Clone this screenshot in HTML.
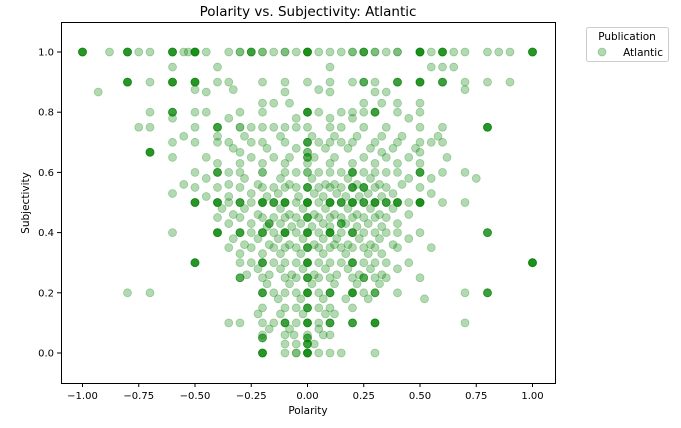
<!DOCTYPE html>
<html><head><meta charset="utf-8">
<style>
html,body{margin:0;padding:0;background:#fff;}
svg{display:block;font-family:"DejaVu Sans","Liberation Sans",sans-serif;}
</style></head>
<body>
<svg id="chart" width="681" height="428">
  <text x="308" y="16" font-size="13.5" text-anchor="middle" fill="#000">Polarity vs. Subjectivity: Atlantic</text>
  <g id="points"></g>
  <rect x="61.5" y="22.5" width="494" height="361" fill="none" stroke="#000" stroke-width="1"/>
  <g id="xticks"></g>
  <g id="yticks"></g>
  <text x="308" y="414" font-size="10.5" text-anchor="middle">Polarity</text>
  <text x="29" y="203" font-size="10.5" text-anchor="middle" transform="rotate(-90 29 203)">Subjectivity</text>
  <g>
    <rect x="586.5" y="27.5" width="82" height="34" rx="2" fill="#fff" stroke="#ccc"/>
    <text x="627" y="40" font-size="10.5" text-anchor="middle">Publication</text>
    <circle cx="602" cy="52" r="4" fill="#008000" fill-opacity="0.3" stroke="#008000" stroke-opacity="0.3" stroke-width="0.8"/>
    <text x="663" y="56" font-size="10.5" text-anchor="end">Atlantic</text>
  </g>
</svg>
<script>
const subjectivityLevels = [1.0,0.95,0.9,0.867,0.875,0.83,0.8,0.78,0.75,0.72,0.7,0.68,0.667,0.65,0.63,0.6,0.58,0.56,0.55,0.53,0.52,0.5,0.48,0.46,0.45,0.43,0.42,0.4,0.38,0.36,0.35,0.33,0.3,0.28,0.26,0.25,0.23,0.2,0.18,0.15,0.13,0.1,0.08,0.06,0.03,0.0];
const polarityByLevel = [
[-1,-1,-0.88,-0.8,-0.8,-0.75,-0.7,-0.6,-0.6,-0.55,-0.53,-0.5,-0.5,-0.5,-0.45,-0.35,-0.3,-0.3,-0.25,-0.2,-0.2,-0.15,-0.1,-0.1,-0.05,0,0,0,0.05,0.1,0.15,0.2,0.2,0.25,0.3,0.3,0.35,0.4,0.4,0.5,0.5,0.5,0.55,0.6,0.6,0.65,0.7,0.8,0.85,0.9,1,1],
[-0.6,-0.4,0.1,0.55,0.6,0.65],
[-0.8,-0.8,-0.7,-0.6,-0.6,-0.5,-0.5,-0.4,-0.35,-0.2,-0.1,0,0.1,0.2,0.3,0.4,0.5,0.5,0.6,0.7,0.8,0.9],
[-0.93,-0.45,-0.1,0.1,0.3,0.35],
[-0.5,-0.33,0.05,0.7],
[-0.2,-0.15,-0.08,0.25,0.33,0.4,0.5],
[-0.7,-0.6,-0.5,-0.45,-0.3,-0.2,0,0,0.05,0.15,0.2,0.25,0.3,0.4,0.5],
[-0.6,-0.35,-0.05,0.1,0.2,0.45],
[-0.75,-0.7,-0.5,-0.4,-0.3,-0.3,-0.25,-0.2,-0.15,-0.1,-0.05,0,0.1,0.15,0.25,0.35,0.5,0.6,0.8,0.8],
[-0.55,-0.4,-0.28,-0.12,0.02,0.12,0.22,0.33,0.42,0.58],
[-0.6,-0.5,-0.4,-0.35,-0.25,-0.2,-0.1,0,0.05,0.1,0.15,0.2,0.3,0.4,0.5,0.55,0.6],
[-0.33,-0.18,-0.05,0.08,0.18,0.28,0.38,0.48],
[-0.7,-0.7,-0.3,0,0,0.33,0.5],
[-0.6,-0.45,-0.25,-0.15,-0.08,0.03,0.12,0.25,0.35,0.45,0.62],
[-0.4,-0.3,-0.2,-0.1,0,0.1,0.2,0.3,0.4,0.5],
[-0.5,-0.4,-0.35,-0.3,-0.2,-0.2,-0.1,-0.05,0,0,0.05,0.1,0.15,0.2,0.25,0.3,0.35,0.4,0.5,0.6,0.7],
[-0.45,-0.28,-0.12,0.02,0.18,0.28,0.45,0.55,0.75],
[-0.55,-0.35,-0.22,-0.08,0.08,0.12,0.22,0.32,0.42],
[-0.5,-0.4,-0.3,-0.2,-0.15,-0.1,-0.05,0,0.05,0.1,0.15,0.2,0.25,0.3,0.35,0.5],
[-0.6,-0.25,-0.13,0.03,0.13,0.27,0.38,0.55],
[-0.45,-0.35,-0.18,-0.04,0.07,0.17,0.23,0.33],
[-0.5,-0.5,-0.4,-0.4,-0.35,-0.3,-0.25,-0.2,-0.2,-0.15,-0.1,-0.1,-0.05,0,0,0,0.05,0.1,0.1,0.15,0.2,0.2,0.25,0.3,0.3,0.35,0.4,0.4,0.45,0.5,0.5,0.5,0.6,0.7],
[-0.38,-0.28,-0.12,-0.02,0.08,0.18,0.28,0.38],
[-0.33,-0.22,-0.08,0.03,0.12,0.22,0.32,0.45],
[-0.4,-0.3,-0.2,-0.15,-0.1,-0.05,0,0.05,0.1,0.15,0.2,0.25,0.3,0.35],
[-0.35,-0.25,-0.12,-0.03,0.07,0.17,0.27,0.4],
[-0.18,-0.07,0.02,0.1,0.22,0.33],
[-0.6,-0.4,-0.4,-0.3,-0.25,-0.2,-0.15,-0.1,-0.1,-0.05,0,0,0.05,0.1,0.1,0.15,0.2,0.25,0.3,0.35,0.4,0.5,0.8],
[-0.33,-0.22,-0.13,-0.02,0.07,0.13,0.23,0.32,0.45],
[-0.28,-0.17,-0.08,0.03,0.12,0.18,0.28,0.38],
[-0.35,-0.25,-0.15,-0.1,-0.05,0,0.05,0.1,0.15,0.2,0.25,0.3,0.4,0.55],
[-0.3,-0.2,-0.12,-0.03,0.07,0.17,0.27,0.33],
[-0.5,-0.5,-0.3,-0.25,-0.2,-0.15,-0.1,-0.05,0,0,0.05,0.1,0.15,0.2,0.25,0.3,0.35,0.45,1,1,1],
[-0.22,-0.12,-0.02,0.08,0.18,0.28,0.4],
[-0.27,-0.17,-0.07,0.03,0.13,0.23,0.33],
[-0.2,-0.1,-0.05,0,0.05,0.1,0.2,0.3,0.35,0.5],
[-0.18,-0.08,0.02,0.12,0.22,0.32],
[-0.8,-0.7,-0.2,-0.15,-0.1,-0.05,0,0,0.05,0.1,0.2,0.2,0.25,0.4,0.7,0.8],
[-0.13,-0.03,0.07,0.17,0.27,0.52],
[-0.2,-0.1,-0.05,0,0.05,0.1,0.2],
[-0.22,-0.12,-0.02,0.08,0.12],
[-0.35,-0.3,-0.2,-0.15,-0.1,-0.05,0,0,0.05,0.1,0.2,0.3,0.3,0.7],
[-0.17,-0.08,0.05],
[-0.2,-0.1,-0.06,0,0.07,0.1],
[-0.1,-0.05,0,0.03],
[-0.2,-0.2,-0.1,-0.05,-0.05,0,0,0,0.05,0.1,0.15,0.3]
];
// frequently repeated (overplotted) value pairs
const heavyPolarity = [-1,-0.8,-0.6,-0.5,-0.25,0,0.25,0.5,0.6,1,-0.8,-0.6,-0.5,0.25,0.4,0.5,0.6,-0.6,0,0.3,-0.4,0.8,-0.7,
  -0.5,-0.4,-0.3,-0.2,-0.15,-0.1,0,0.1,0.15,0.2,0.25,0.3,0.35,0.4,0.5,
  -0.4,-0.3,-0.2,-0.1,0,0.1,0.2,0.8,
  -0.5,-0.2,0,0.2,1,-0.3,0,0.25,-0.2,0,0.1,0.2,0.3,0.8,-0.1,0,0.1,0.2,0.3,-0.2,0,-0.2,0,
  0,0,0,0,0,0,0,-0.4,0.2,0.5,0.2,0.25,-0.17,0.15];
const heavySubjectivity = [1,1,1,1,1,1,1,1,1,1,0.9,0.9,0.9,0.9,0.9,0.9,0.9,0.8,0.8,0.8,0.75,0.75,0.667,
  0.5,0.5,0.5,0.5,0.5,0.5,0.5,0.5,0.5,0.5,0.5,0.5,0.5,0.5,0.5,
  0.4,0.4,0.4,0.4,0.4,0.4,0.4,0.4,
  0.3,0.3,0.3,0.3,0.3,0.25,0.25,0.25,0.2,0.2,0.2,0.2,0.2,0.2,0.1,0.1,0.1,0.1,0.1,0.05,0.05,0,0,
  0.15,0.35,0.45,0.55,0.65,0.7,0.03,0.6,0.6,0.6,0.55,0.55,0.43,0.43];
const heavyRepeat = 3;
const xTickValues = [-1,-0.75,-0.5,-0.25,0,0.25,0.5,0.75,1];
const xTickLabels = ["\u22121.00","\u22120.75","\u22120.50","\u22120.25","0.00","0.25","0.50","0.75","1.00"];
const yTickValues = [0,0.2,0.4,0.6,0.8,1.0];
const yTickLabels = ["0.0","0.2","0.4","0.6","0.8","1.0"];

const NS = "http://www.w3.org/2000/svg";
function xScale(v){ return 307.5 + v*225; }
function yScale(v){ return 353 - v*301; }

const pg = document.getElementById('points');
function addPoint(x, y){
  const c = document.createElementNS(NS, 'circle');
  c.setAttribute('cx', xScale(x));
  c.setAttribute('cy', yScale(y));
  c.setAttribute('r', 4);
  c.setAttribute('fill', '#008000');
  c.setAttribute('fill-opacity', '0.3');
  c.setAttribute('stroke', '#008000');
  c.setAttribute('stroke-opacity', '0.3');
  c.setAttribute('stroke-width', '0.8');
  
  
  pg.appendChild(c);
}
subjectivityLevels.forEach((y, i) => {
  polarityByLevel[i].forEach(x => addPoint(x, y));
});
heavyPolarity.forEach((x, i) => {
  for (let k = 0; k < heavyRepeat; k++) addPoint(x, heavySubjectivity[i]);
});

const xg = document.getElementById('xticks');
xTickValues.forEach((v, i) => {
  const px = xScale(v);
  const l = document.createElementNS(NS, 'line');
  l.setAttribute('x1', px); l.setAttribute('x2', px);
  l.setAttribute('y1', 383); l.setAttribute('y2', 387);
  l.setAttribute('stroke', '#000');
  
  
  xg.appendChild(l);
  const t = document.createElementNS(NS, 'text');
  t.setAttribute('x', px); t.setAttribute('y', 399);
  t.setAttribute('font-size', '10');
  t.setAttribute('text-anchor', 'middle');
  t.textContent = xTickLabels[i];
  
  
  xg.appendChild(t);
});

const yg = document.getElementById('yticks');
yTickValues.forEach((v, i) => {
  const py = yScale(v);
  const l = document.createElementNS(NS, 'line');
  l.setAttribute('x1', 57); l.setAttribute('x2', 61);
  l.setAttribute('y1', py); l.setAttribute('y2', py);
  l.setAttribute('stroke', '#000');
  
  
  yg.appendChild(l);
  const t = document.createElementNS(NS, 'text');
  t.setAttribute('x', 54); t.setAttribute('y', py + 3.5);
  t.setAttribute('font-size', '10');
  t.setAttribute('text-anchor', 'end');
  t.textContent = yTickLabels[i];
  
  
  yg.appendChild(t);
});
</script>
</body></html>
